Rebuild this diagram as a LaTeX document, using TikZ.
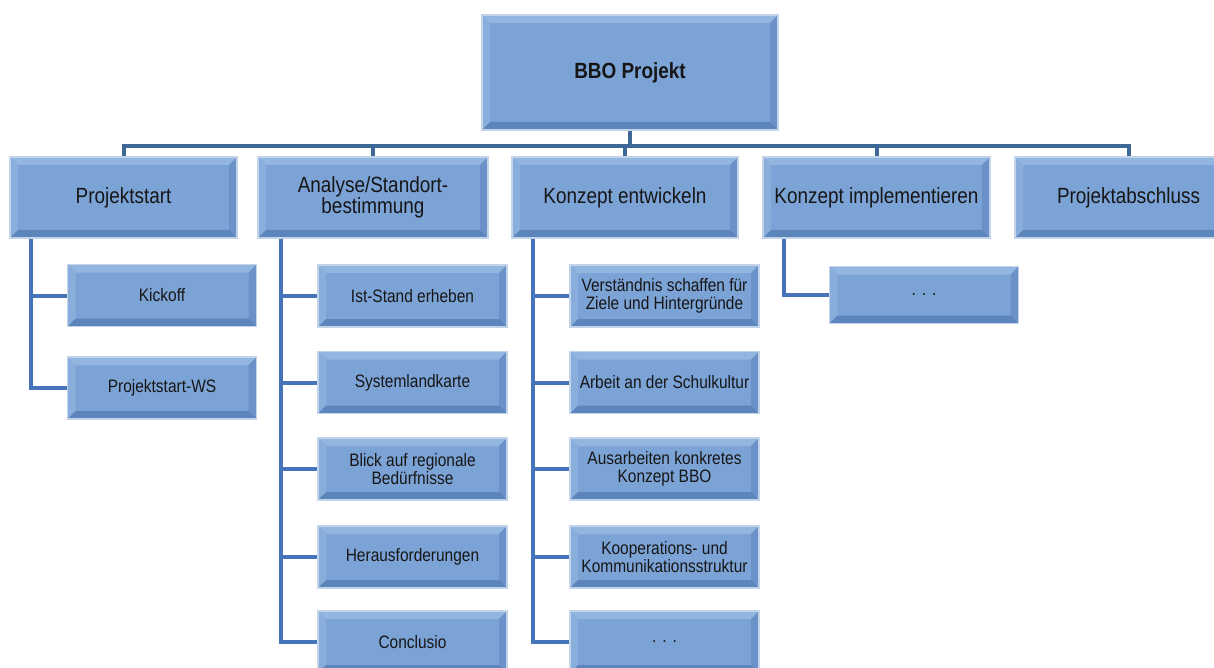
\documentclass[tikz,border=0pt]{standalone}
\usepackage{fontspec}
\setmainfont{Liberation Sans}[FakeStretch=0.86]
\definecolor{face}{HTML}{7CA3D6}
\definecolor{bvtop}{HTML}{93B6E1}
\definecolor{bvleft}{HTML}{89AEDC}
\definecolor{bvright}{HTML}{6A92C8}
\definecolor{bvbot}{HTML}{5C85BC}
\definecolor{glow}{HTML}{C3D3E8}
\definecolor{buscol}{HTML}{3E6896}
\definecolor{linkcol}{HTML}{4674BA}
\definecolor{txt}{HTML}{161616}
\newcommand{\bvw}{8pt}
\newcommand{\mydots}{.\hspace{6pt}.\hspace{6pt}.}
\tikzset{
  bevel/.style={rectangle, fill=face, draw=glow, line width=1.6pt, inner sep=0pt,
    align=center, text=txt,
    path picture={
      \coordinate (nw) at (path picture bounding box.north west);
      \coordinate (ne) at (path picture bounding box.north east);
      \coordinate (sw) at (path picture bounding box.south west);
      \coordinate (se) at (path picture bounding box.south east);
      \fill[bvtop] (nw) -- (ne) -- ([xshift=-\bvw,yshift=-\bvw]ne) -- ([xshift=\bvw,yshift=-\bvw]nw) -- cycle;
      \fill[bvleft] (nw) -- (sw) -- ([xshift=\bvw,yshift=\bvw]sw) -- ([xshift=\bvw,yshift=-\bvw]nw) -- cycle;
      \fill[bvright] (ne) -- (se) -- ([xshift=-\bvw,yshift=\bvw]se) -- ([xshift=-\bvw,yshift=-\bvw]ne) -- cycle;
      \fill[bvbot] (sw) -- (se) -- ([xshift=-\bvw,yshift=\bvw]se) -- ([xshift=\bvw,yshift=\bvw]sw) -- cycle;
    }},
  lvlzero/.style={bevel, minimum width=296pt, minimum height=115pt, font=\fontsize{22}{21}\selectfont\bfseries},
  lvlone/.style={bevel, minimum height=81pt, font=\fontsize{22}{21}\selectfont},
  lvltwo/.style={bevel, minimum width=189pt, minimum height=62pt, font=\fontsize{18}{18.5}\selectfont},
  bus/.style={draw=buscol, line width=4pt},
  link/.style={draw=linkcol, line width=4pt},
}
\begin{document}
\begin{tikzpicture}[x=1pt,y=-1pt]
\useasboundingbox (0,0) rectangle (1214,668);
\clip (0,0) rectangle (1214,668);
\fill[white] (0,0) rectangle (1214,668);

% level 0
\node[lvlzero] (top) at (630,72.5) {BBO Projekt};

% level 1
\node[lvlone, minimum width=227pt] (ps) at (123.5,197.5) {Projektstart};
\node[lvlone, minimum width=230pt] (an) at (373,197.5) {Analyse/Standort-\\bestimmung};
\node[lvlone, minimum width=226pt] (ke) at (625,197.5) {Konzept entwickeln};
\node[lvlone, minimum width=227pt] (ki) at (876.5,197.5) {Konzept implementieren};
\node[lvlone, minimum width=227pt] (pa) at (1128.5,197.5) {Projektabschluss};

% level 2: Projektstart
\node[lvltwo] (ps1) at (162,295.5) {Kickoff};
\node[lvltwo] (ps2) at (162,388) {Projektstart-WS};

% level 2: Analyse
\node[lvltwo] (an1) at (412.5,296) {Ist-Stand erheben};
\node[lvltwo] (an2) at (412.5,382.5) {Systemlandkarte};
\node[lvltwo] (an3) at (412.5,469) {Blick auf regionale\\Bedürfnisse};
\node[lvltwo] (an4) at (412.5,557) {Herausforderungen};
\node[lvltwo] (an5) at (412.5,642) {Conclusio};

% level 2: Konzept entwickeln
\node[lvltwo] (ke1) at (664.5,296) {Verständnis schaffen für\\Ziele und Hintergründe};
\node[lvltwo] (ke2) at (664.5,382.5) {Arbeit an der Schulkultur};
\node[lvltwo] (ke3) at (664.5,469) {Ausarbeiten konkretes\\Konzept BBO};
\node[lvltwo] (ke4) at (664.5,557) {Kooperations- und\\Kommunikationsstruktur};
\node[lvltwo] (ke5) at (664.5,642) {\mydots};

% level 2: Konzept implementieren
\node[lvltwo, minimum height=57pt] (ki1) at (924,295) {\mydots};

% bus connectors
\foreach \n in {ps,an,ke,ki,pa}
  \draw[bus] (top.south) -- ++(0,15) -| (\n.north);

% child connectors
\foreach \c in {ps1,ps2}
  \draw[link] ([xshift=22pt]ps.south west) |- (\c.west);
\foreach \c in {an1,an2,an3,an4,an5}
  \draw[link] ([xshift=24pt]an.south west) |- (\c.west);
\foreach \c in {ke1,ke2,ke3,ke4,ke5}
  \draw[link] ([xshift=22pt]ke.south west) |- (\c.west);
\draw[link] ([xshift=22pt]ki.south west) |- (ki1.west);
\end{tikzpicture}
\end{document}
